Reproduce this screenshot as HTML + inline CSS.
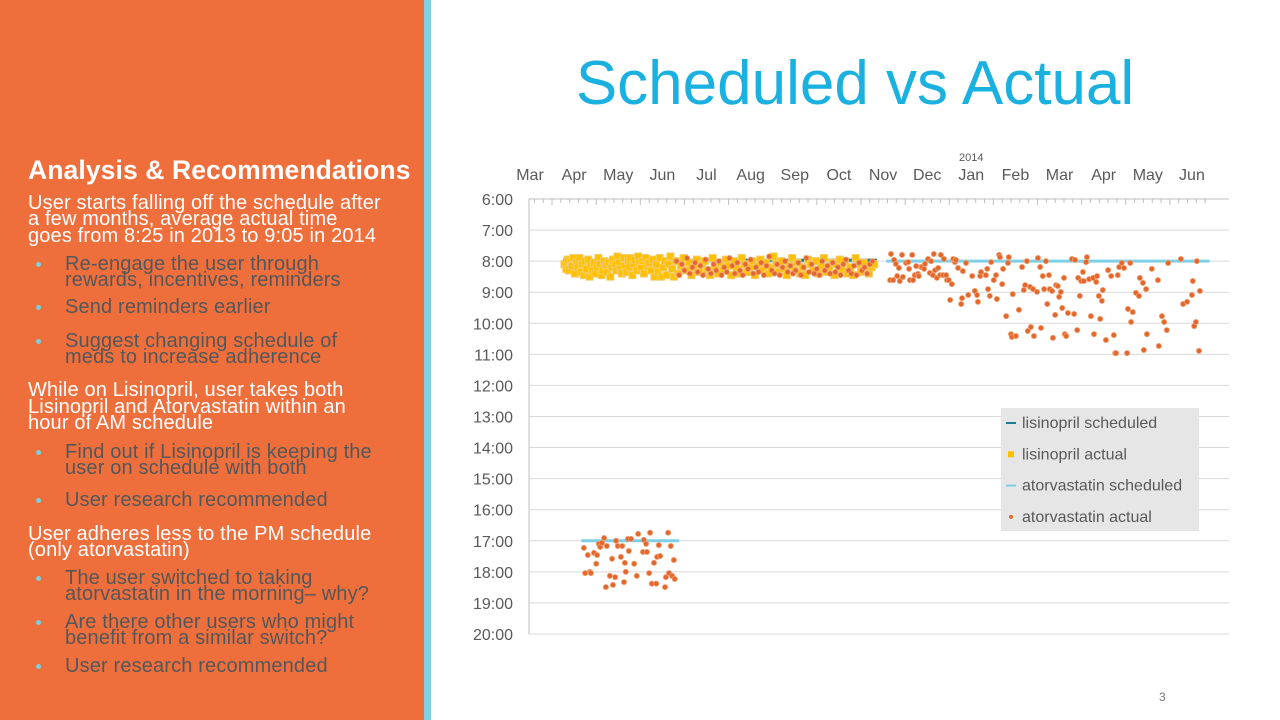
<!DOCTYPE html>
<html><head><meta charset="utf-8">
<style>
body{margin:0;width:1280px;height:720px;overflow:hidden;background:#fff;position:relative;font-family:"Liberation Sans",sans-serif}
#left{position:absolute;left:0;top:0;width:424px;height:720px;background:#EF6F3C}
#strip{position:absolute;left:424px;top:0;width:7px;height:720px;background:#7ECFE1}
.l{position:absolute;white-space:nowrap;line-height:20px;font-size:20px;color:#fff;letter-spacing:0.15px}
.b{color:#54575a;left:65px}
.dot{position:absolute;left:36px;width:5px;height:5px;border-radius:50%;background:#7ECFE1}
#title{position:absolute;left:430px;width:850px;top:48px;text-align:center;font-size:62px;color:#1AB0E0}
</style></head><body>
<div id="left"></div>
<div id="strip"></div>
<div class="l" style="left:28px;top:157px;font-size:26.5px;font-weight:bold;line-height:26px;letter-spacing:0.1px">Analysis &amp; Recommendations</div>
<div>
<div class="l" style="left:28px;top:193px">User starts falling off the schedule after</div>
<div class="l" style="left:28px;top:209px">a few months, average actual time</div>
<div class="l" style="left:28px;top:226px">goes from 8:25 in 2013 to 9:05 in 2014</div>
</div>
<div class="dot" style="top:262px"></div><div class="l b" style="top:254px">Re-engage the user through</div>
<div class="l b" style="top:270px">rewards, incentives, reminders</div>
<div class="dot" style="top:305px"></div><div class="l b" style="top:297px">Send reminders earlier</div>
<div class="dot" style="top:339px"></div><div class="l b" style="top:331px">Suggest changing schedule of</div>
<div class="l b" style="top:347px">meds to increase adherence</div>
<div>
<div class="l" style="left:28px;top:380px">While on Lisinopril, user takes both</div>
<div class="l" style="left:28px;top:397px">Lisinopril and Atorvastatin within an</div>
<div class="l" style="left:28px;top:413px">hour of AM schedule</div>
</div>
<div class="dot" style="top:450px"></div><div class="l b" style="top:442px">Find out if Lisinopril is keeping the</div>
<div class="l b" style="top:458px">user on schedule with both</div>
<div class="dot" style="top:498px"></div><div class="l b" style="top:490px">User research recommended</div>
<div>
<div class="l" style="left:28px;top:524px">User adheres less to the PM schedule</div>
<div class="l" style="left:28px;top:540px">(only atorvastatin)</div>
</div>
<div class="dot" style="top:576px"></div><div class="l b" style="top:568px">The user switched to taking</div>
<div class="l b" style="top:584px">atorvastatin in the morning– why?</div>
<div class="dot" style="top:620px"></div><div class="l b" style="top:612px">Are there other users who might</div>
<div class="l b" style="top:628px">benefit from a similar switch?</div>
<div class="dot" style="top:664px"></div><div class="l b" style="top:656px">User research recommended</div>
<div id="title">Scheduled vs Actual</div>
<div style="position:absolute;left:1159px;top:690px;font-size:12px;color:#777">3</div>
<svg id="chart" width="1280" height="720" style="position:absolute;left:0;top:0" font-family="Liberation Sans, sans-serif"></svg>
<script>
const monthLabels=["Mar","Apr","May","Jun","Jul","Aug","Sep","Oct","Nov","Dec","Jan","Feb","Mar","Apr","May","Jun"];
const hourTicks=[6,7,8,9,10,11,12,13,14,15,16,17,18,19,20];
const lisSchedSegs=[[0.75,7.86]];
const lisSchedHour=[8];
const atoSchedSegsAM=[[3.3,7.86],[8.07,15.4]];
const atoSchedSegsPM=[[1.16,3.38]];
const atoSchedHours=[8,17];
const lisM=[0.78,0.82,0.85,0.88,0.92,0.95,0.98,1.02,1.05,1.08,1.12,1.15,1.18,1.22,1.25,1.28,1.32,1.35,1.38,1.42,1.45,1.48,1.52,1.55,1.58,1.62,1.65,1.68,1.72,1.75,1.78,1.82,1.85,1.88,1.92,1.95,1.98,2.02,2.05,2.08,2.12,2.15,2.18,2.22,2.25,2.28,2.32,2.35,2.38,2.42,2.45,2.48,2.52,2.55,2.58,2.62,2.66,2.7,2.74,2.78,2.82,2.86,2.9,2.94,2.98,3.02,3.06,3.1,3.14,3.18,3.22,3.26,3.3,3.36,3.42,3.48,3.54,3.6,3.66,3.72,3.78,3.84,3.9,3.96,4.02,4.08,4.14,4.2,4.26,4.32,4.38,4.44,4.5,4.56,4.62,4.68,4.74,4.8,4.86,4.92,4.98,5.04,5.1,5.16,5.22,5.28,5.34,5.4,5.46,5.52,5.58,5.64,5.7,5.76,5.82,5.88,5.94,6.0,6.06,6.12,6.18,6.24,6.3,6.36,6.42,6.48,6.54,6.6,6.66,6.72,6.78,6.84,6.9,6.96,7.02,7.08,7.14,7.2,7.26,7.32,7.38,7.44,7.5,7.56,7.62,7.68,7.74,7.8];
const lisH=[8.1,8.25,7.95,8.3,8.0,8.15,7.9,8.4,8.05,8.2,7.9,8.35,8.1,8.45,8.0,8.25,7.95,8.5,8.15,8.3,8.05,8.4,8.2,7.9,8.1,8.45,8.3,8.0,8.15,8.35,8.05,8.5,8.2,7.95,8.1,8.3,7.85,8.05,8.25,8.4,7.9,8.15,8.35,8.0,8.2,7.9,8.45,8.1,7.95,8.3,7.85,8.05,8.2,8.0,8.4,7.9,8.15,8.05,8.3,7.95,8.5,8.1,8.35,7.9,8.5,8.2,8.0,8.45,8.1,7.85,8.25,8.5,8.0,8.4,8.15,7.9,8.3,8.05,8.45,8.2,7.95,8.35,8.1,8.0,8.3,8.45,7.9,8.2,8.4,8.05,8.3,7.95,8.15,8.45,8.0,8.25,8.4,7.9,8.1,8.35,8.2,8.0,8.45,8.15,7.95,8.3,8.05,8.4,8.2,7.85,8.1,8.35,8.0,8.25,8.45,8.15,7.9,8.3,8.05,8.4,8.2,8.45,7.95,8.1,8.3,8.0,8.4,8.15,7.9,8.35,8.2,8.05,8.45,8.1,7.95,8.3,8.0,8.4,8.2,8.45,7.9,8.1,8.35,8.05,8.25,8.4,8.2,8.1];
const atoM=[3.32,3.38,3.44,3.5,3.56,3.62,3.68,3.74,3.8,3.86,3.92,3.98,4.04,4.1,4.16,4.22,4.28,4.34,4.4,4.46,4.52,4.58,4.64,4.7,4.76,4.82,4.88,4.94,5.0,5.06,5.12,5.18,5.24,5.3,5.36,5.42,5.48,5.54,5.6,5.66,5.72,5.78,5.84,5.9,5.96,6.02,6.08,6.14,6.2,6.26,6.32,6.38,6.44,6.5,6.56,6.62,6.68,6.74,6.8,6.86,6.92,6.98,7.04,7.1,7.16,7.22,7.28,7.34,7.4,7.46,7.52,7.58,7.64,7.7,7.76,
8.18,8.16,8.23,8.25,8.29,8.32,8.36,8.38,8.43,8.45,8.52,8.57,8.59,8.61,8.66,8.68,8.72,8.75,8.79,8.81,8.86,8.88,8.93,8.95,9.02,9.06,9.09,9.13,9.15,9.18,9.22,9.25,9.29,9.31,9.36,9.38,9.43,9.45,9.49,9.52,9.56,9.59,9.63,9.65,9.7,9.77,9.79,9.81,9.88,9.93,10.02,10.08,10.13,10.15,10.2,10.22,10.33,10.36,10.38,10.42,10.45,10.51,10.56,10.58,10.63,10.65,10.7,10.72,10.79,10.83,10.85,10.9,10.92,10.94,11.01,11.08,11.15,11.19,11.22,11.26,11.28,11.33,11.35,11.4,11.42,11.49,11.51,11.56,11.58,11.62,11.65,11.69,11.72,11.76,11.78,11.83,11.85,11.9,11.92,11.96,11.99,12.03,12.06,12.1,12.12,12.15,12.19,12.28,12.33,12.35,12.4,12.42,12.46,12.49,12.53,12.55,12.6,12.62,12.67,12.71,12.76,12.78,12.83,12.85,12.89,12.92,12.96,12.98,13.05,13.1,13.17,13.23,13.26,13.28,13.32,13.35,13.41,13.46,13.53,13.55,13.6,13.62,13.66,13.73,13.8,13.82,13.89,13.91,13.96,13.98,14.09,14.23,14.25,14.32,14.37,14.43,14.46,14.75,14.8,14.89,15.0,15.02,15.05,15.09,15.11,15.16,15.18,
1.22,1.25,1.31,1.36,1.38,1.45,1.5,1.52,1.56,1.59,1.63,1.68,1.72,1.74,1.81,1.86,1.88,1.93,1.95,1.99,2.06,2.09,2.13,2.15,2.17,2.22,2.24,2.29,2.36,2.42,2.45,2.56,2.58,2.63,2.65,2.7,2.72,2.76,2.81,2.86,2.88,2.92,2.95,3.06,3.08,3.13,3.15,3.19,3.22,3.26,3.28];
const atoH=[8.0,8.45,8.1,8.3,7.9,8.4,8.2,8.05,8.35,8.15,8.45,7.95,8.25,8.4,8.1,8.3,8.0,8.45,8.2,8.35,7.9,8.15,8.4,8.05,8.3,8.45,8.1,8.25,7.95,8.4,8.2,8.35,8.05,8.45,8.15,7.85,8.3,8.4,8.1,8.45,8.2,8.0,8.35,8.15,8.4,8.3,8.05,8.45,8.2,7.9,8.35,8.1,8.4,8.25,8.45,8.0,8.3,8.15,8.4,8.05,8.35,8.2,8.45,8.1,7.95,8.3,8.4,8.15,8.45,8.05,8.3,8.2,8.4,8.1,8.0,
7.77,8.61,8.61,7.96,8.09,8.48,8.22,8.64,7.8,8.51,8.06,8.03,8.25,8.61,7.8,8.61,8.45,8.16,8.41,8.48,8.19,8.19,8.25,8.09,7.93,8.38,8.0,8.45,7.77,8.29,8.54,8.22,8.45,7.8,8.45,7.93,8.45,8.61,8.61,9.25,8.74,7.93,8.03,7.96,8.22,9.38,9.19,8.32,8.06,9.09,8.48,8.96,9.09,9.31,8.48,8.35,8.45,8.25,8.9,9.12,8.03,8.61,8.45,9.22,7.8,7.87,8.74,8.25,9.77,8.06,7.87,10.35,10.44,9.06,10.41,9.57,8.19,8.93,8.77,8.0,10.25,8.83,10.12,8.9,10.41,8.99,7.9,8.19,10.15,8.48,8.9,8.0,9.38,8.45,8.9,8.96,10.47,9.73,8.77,8.8,9.15,8.99,9.51,8.54,10.35,10.41,9.67,7.93,9.7,7.96,10.22,8.54,9.12,8.64,8.35,8.64,8.03,7.87,8.58,9.77,8.54,10.35,8.67,8.48,9.12,9.86,9.28,8.93,10.54,8.29,8.48,10.38,10.96,10.96,8.45,8.19,8.06,8.22,10.96,9.54,8.06,9.96,9.64,9.02,9.12,8.54,8.7,10.86,8.9,10.35,8.25,8.61,10.73,9.77,9.96,10.22,8.06,7.93,9.38,9.31,9.09,8.64,10.09,9.96,8.0,10.89,8.96,
17.23,18.04,17.46,18.0,18.04,17.39,17.74,17.46,17.1,17.2,17.07,16.91,18.49,17.17,18.13,17.58,18.42,18.17,17.0,17.17,17.52,17.17,18.33,17.71,18.0,16.94,17.33,16.94,17.74,18.13,16.78,17.36,16.97,17.1,17.36,18.04,16.74,18.38,17.71,18.38,17.52,17.14,17.49,18.49,18.17,16.74,18.04,17.17,18.13,17.62,18.23];

const NS="http://www.w3.org/2000/svg";
const svg=document.getElementById('chart');
const X0=530,MW=44.13,Y0=199,HH=31.07,PL=529,PR=1229;
function xs(m){return X0+m*MW;}
function ys(h){return Y0+(h-6)*HH;}
function mk(t,a,p){const e=document.createElementNS(NS,t);for(const k in a)e.setAttribute(k,a[k]);(p||svg).appendChild(e);return e;}
hourTicks.forEach(h=>{
  const g=mk('line',{x1:PL,x2:PR,y1:ys(h),y2:ys(h),stroke:'#D9D9D9','stroke-width':1});
  
  
  const t=mk('text',{x:513,y:ys(h)+6,'text-anchor':'end','font-size':16,fill:'#595959'});
  t.textContent=h+':00';
  
  
});
const ax=mk('line',{x1:PL,x2:PL,y1:Y0,y2:ys(20),stroke:'#BFBFBF'});


const tx=mk('line',{x1:PL,x2:PR,y1:Y0,y2:Y0,stroke:'#BFBFBF'});


for(let i=0;i<monthLabels.length*5;i++){
  const x=xs(i/5-0.5); if(x<PL||x>PR)continue;
  const tk=mk('line',{x1:x,x2:x,y1:Y0,y2:Y0+(i%5==0?6:4),stroke:'#BFBFBF'});
  
  
}
monthLabels.forEach((m,i)=>{
  const t=mk('text',{x:xs(i),y:180,'text-anchor':'middle','font-size':16,fill:'#595959'});
  t.textContent=m;
  
  
});
const yr=mk('text',{x:xs(10),y:161,'text-anchor':'middle','font-size':11,fill:'#595959'});
yr.textContent='2014';


atoSchedSegsAM.forEach(s=>{const l=mk('line',{x1:xs(s[0]),x2:xs(s[1]),y1:ys(atoSchedHours[0]),y2:ys(atoSchedHours[0]),stroke:'#7ED0E6','stroke-width':3});
  
  });
atoSchedSegsPM.forEach(s=>{const l=mk('line',{x1:xs(s[0]),x2:xs(s[1]),y1:ys(atoSchedHours[1]),y2:ys(atoSchedHours[1]),stroke:'#7ED0E6','stroke-width':3});
  
  });
lisSchedSegs.forEach(s=>{const l=mk('line',{x1:xs(s[0]),x2:xs(s[1]),y1:ys(lisSchedHour[0])-1,y2:ys(lisSchedHour[0])-1,stroke:'#1B7D95','stroke-width':3});
  
  });
lisM.forEach((m,i)=>{if(lisH[i]===undefined)return;
  const r=mk('rect',{x:xs(m)-3.5,y:ys(lisH[i])-3.5,width:7,height:7,fill:'#FFC000',stroke:'#F2CC6A','stroke-width':1});
  
  });
atoM.forEach((m,i)=>{if(atoH[i]===undefined)return;
  const c=mk('circle',{cx:xs(m),cy:ys(atoH[i]),r:2.6,fill:'#E2672E',stroke:'#F0A070','stroke-width':0.8});
  
  });
const lg=mk('g',{});


mk('rect',{x:1001,y:408,width:198,height:123,fill:'#E6E6E6'},lg);
const ents=['lisinopril scheduled','lisinopril actual','atorvastatin scheduled','atorvastatin actual'];
ents.forEach((e,i)=>{
  const y=423+i*31.3;
  if(i==0)mk('line',{x1:1006,x2:1016,y1:y,y2:y,stroke:'#1B7D95','stroke-width':2},lg);
  if(i==1)mk('rect',{x:1008,y:y-3,width:6,height:6,fill:'#FFC000'},lg);
  if(i==2)mk('line',{x1:1006,x2:1016,y1:y,y2:y,stroke:'#7ED0E6','stroke-width':2},lg);
  if(i==3)mk('circle',{cx:1011,cy:y,r:2,fill:'#E2672E'},lg);
  const t=mk('text',{x:1022,y:y+5,'font-size':16,fill:'#595959'},lg);
  t.textContent=e;
  
  
});
</script>
</body></html>
